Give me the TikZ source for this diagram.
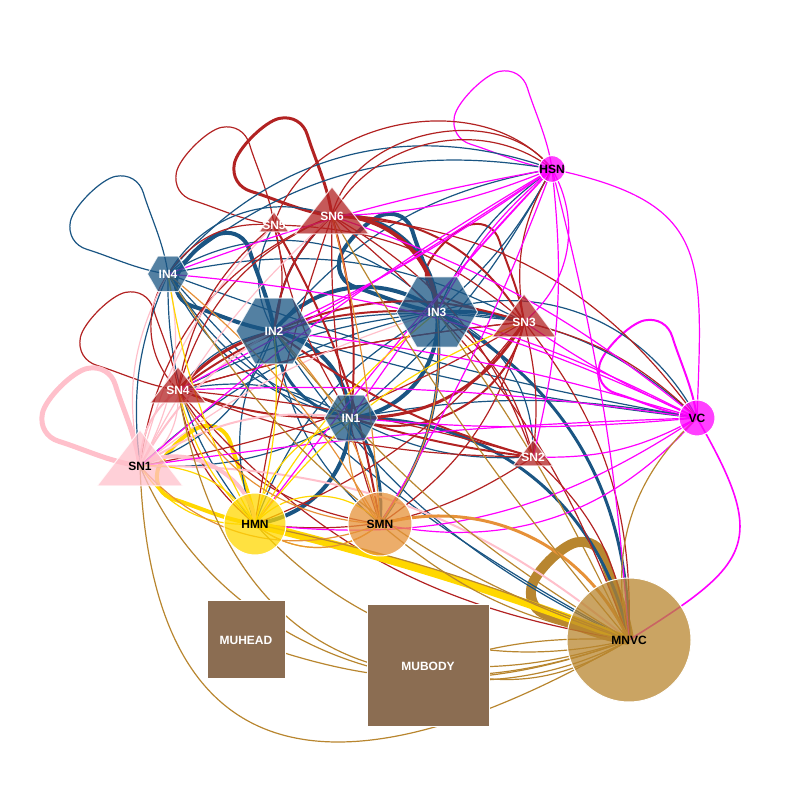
\documentclass[tikz,border=0pt]{standalone}
\usepackage{fontspec}
\setmainfont{Liberation Sans}
\usetikzlibrary{shapes.geometric}
\pgfdeclarelayer{bg}
\pgfdeclarelayer{mid}
\pgfsetlayers{bg,mid,main}
\definecolor{cIN}{HTML}{1A5583}
\definecolor{cSN}{HTML}{B22222}
\definecolor{cPK}{HTML}{FFC0CB}
\definecolor{cMG}{HTML}{FF00FF}
\definecolor{cHM}{HTML}{FFD700}
\definecolor{cSM}{HTML}{E69138}
\definecolor{cMN}{HTML}{B8862F}
\definecolor{cMU}{HTML}{8B6D52}
\newcommand\nodeloop[2]{\draw[#1, shift={(#2.center)}] (0,0) .. controls (-30,4) and (-57.1,17.3) .. (-81,24.6) .. controls (-93.6,28.4) and (-100.2,39.6) .. (-97.6,52.6) .. controls (-94.6,67.3) and (-67.3,94.6) .. (-52.6,97.6) .. controls (-39.6,100.2) and (-28.4,93.6) .. (-24.6,81) .. controls (-17.3,57.1) and (-4,30) .. (0,0);}
\begin{document}
\begin{tikzpicture}[x=1pt,y=1pt,
  lbl/.style={font=\fontsize{12}{14}\selectfont\bfseries, inner sep=0pt},
  hexnode/.style={regular polygon, regular polygon sides=6, inner sep=0pt, fill=cIN, fill opacity=0.75, text opacity=1, draw=white, draw opacity=0.8, line width=1pt, text=white, lbl},
  circnode/.style={circle, inner sep=0pt, fill opacity=0.75, text opacity=1, draw=white, line width=1pt, text=black, lbl},
  sqnode/.style={rectangle, inner sep=0pt, fill=cMU, draw=white, line width=1pt, text=white, lbl},
  trinode/.style={lbl, text=white},
  trif/.style={fill=cSN, fill opacity=0.75, draw=white, draw opacity=0.8, line width=1pt},
  e/.style={line width=1.2pt},
  eb/.style={e, draw=cIN}, er/.style={e, draw=cSN}, ep/.style={e, draw=cPK},
  em/.style={e, draw=cMG}, ey/.style={e, draw=cHM}, eo/.style={e, draw=cSM},
  et/.style={e, draw=cMN},
  w2/.style={line width=2pt}, w3/.style={line width=3pt}, w4/.style={line width=4pt},
  w5/.style={line width=5pt}, w8/.style={line width=8pt}, w10/.style={line width=10pt}
]
\useasboundingbox (0,0) rectangle (800,800);
% ---------- nodes ----------
\node[circnode, fill=cMG, minimum size=18pt] (HSN) at (552,631) {HSN};
\node[trinode] (SN6) at (332,584) {SN6};
\node[trinode] (SN5) at (274,575) {SN5};
\node[hexnode, minimum size=41pt] (IN4) at (168,526) {IN4};
\node[hexnode, minimum size=76pt] (IN2) at (274,469) {IN2};
\node[hexnode, minimum size=81pt] (IN3) at (437,488) {IN3};
\node[trinode] (SN3) at (524,478) {SN3};
\node[trinode] (SN4) at (178,410) {SN4};
\node[hexnode, minimum size=53pt] (IN1) at (351,382) {IN1};
\node[circnode, fill=cMG, minimum size=36pt] (VC) at (697,382) {VC};
\node[trinode] (SN2) at (533,343) {SN2};
\node[trinode, text=black] (SN1) at (140,334) {SN1};
\node[circnode, fill=cHM, minimum size=62pt] (HMN) at (255,276) {HMN};
\node[circnode, fill=cSM, minimum size=64pt] (SMN) at (380,276) {SMN};
\node[circnode, fill=cMN, minimum size=124pt] (MNVC) at (629,160) {MNVC};
\node[sqnode, minimum size=78pt] (MUHEAD) at (246,160) {MUHEAD};
\node[sqnode, minimum size=122pt] (MUBODY) at (428,134) {MUBODY};
% ---------- triangles ----------
\begin{pgfonlayer}{mid}
\fill[trif, shift={(SN6.center)}] (0,29) -- (37,-18) -- (-37,-18) -- cycle;
\fill[trif, shift={(SN5.center)}] (0,13) -- (15,-7) -- (-15,-7) -- cycle;
\fill[trif, shift={(SN3.center)}] (0,28) -- (32,-15) -- (-32,-15) -- cycle;
\fill[trif, shift={(SN4.center)}] (0,23) -- (28,-13) -- (-28,-13) -- cycle;
\fill[trif, fill=cPK, shift={(SN1.center)}] (0,36) -- (43,-20) -- (-43,-20) -- cycle;
\fill[trif, shift={(SN2.center)}] (0,17) -- (20,-9) -- (-20,-9) -- cycle;
\end{pgfonlayer}
% ---------- edges ----------
\begin{pgfonlayer}{bg}
% loops
\nodeloop{eb}{IN4}
\nodeloop{eb,w4}{IN2}
\nodeloop{eb,w4}{IN3}
\nodeloop{er,w3}{SN6}
\nodeloop{er}{SN5}
\nodeloop{er}{SN4}
\nodeloop{er,w2}{SN3}
\nodeloop{ep,w5}{SN1}
\nodeloop{em}{HSN}
\nodeloop{em,w2}{VC}
\nodeloop{ey,w4}{HMN}
\nodeloop{et,w10}{MNVC}
% blue IN4
\draw[eb] (IN4.center) to[bend left=25] (HSN.center);
\draw[eb] (IN4.center) to[bend left=35] (HSN.center);
\draw[eb] (IN4.center) to[bend left=40] (IN3.center);
\draw[eb] (IN4.center) to[bend left=20] (SN3.center);
\draw[eb] (IN4.center) to[bend right=5] (VC.center);
\draw[eb] (IN4.center) to[bend right=25] (IN1.center);
\draw[eb] (IN4.center) to[bend right=15] (SN1.center);
\draw[eb] (IN4.center) to[bend right=20] (HMN.center);
\draw[eb] (IN4.center) to[bend right=10] (MNVC.center);
\draw[eb] (IN4.center) to[bend left=40] (SN6.center);
% blue IN2
\draw[eb,w4] (IN2.center) to[bend left=45] (IN3.center);
\draw[eb,w4] (IN2.center) to[bend left=35] (IN1.center);
\draw[eb,w3] (IN2.center) to[bend right=40] (IN1.center);
\draw[eb,w2] (IN2.center) to[bend left=20] (SN6.center);
\draw[eb] (IN2.center) to[bend left=20] (HSN.center);
\draw[eb] (IN2.center) to[bend right=5] (VC.center);
\draw[eb] (IN2.center) to[bend left=10] (SN3.center);
\draw[eb] (IN2.center) to[bend right=15] (MNVC.center);
\draw[eb] (IN2.center) to[bend right=20] (SMN.center);
\draw[eb] (IN2.center) to[bend right=25] (HMN.center);
\draw[eb] (IN2.center) to[bend left=25] (SN1.center);
\draw[eb] (IN2.center) to[bend right=20] (SN4.center);
\draw[eb] (IN2.center) to[bend left=30] (SN5.center);
% blue IN3
\draw[eb] (IN3.center) to[bend left=15] (HSN.center);
\draw[eb] (IN3.center) to[bend right=10] (HSN.center);
\draw[eb] (IN3.center) to[bend left=40] (VC.center);
\draw[eb] (IN3.center) to[bend left=20] (VC.center);
\draw[eb] (IN3.center) to[bend left=35] (SN2.center);
\draw[eb,w3] (IN3.center) to[bend left=30] (MNVC.center);
\draw[eb,w3] (IN3.center) to[bend left=20] (SMN.center);
\draw[eb,w4] (IN3.center) to[bend left=45] (IN1.center);
\draw[eb] (IN3.center) to[bend right=10] (SN4.center);
\draw[eb] (IN3.center) to[bend right=15] (SN1.center);
\draw[eb] (IN3.center) to[bend right=20] (HMN.center);
\draw[eb,w3] (IN3.center) to[bend right=50] (SN6.center);
\draw[eb,w3] (IN3.center) to[bend left=10] (SN3.center);
% blue IN1
\draw[eb,w4] (IN1.center) to[bend left=40] (HMN.center);
\draw[eb,w3] (IN1.center) to[bend left=40] (MNVC.center);
\draw[eb] (IN1.center) to[bend left=15] (SN1.center);
\draw[eb] (IN1.center) to[bend right=20] (SN4.center);
\draw[eb] (IN1.center) to[bend left=10] (VC.center);
\draw[eb,w3] (IN1.center) to[bend left=20] (SMN.center);
\draw[eb] (IN1.center) to[bend right=15] (SN2.center);
\draw[eb] (IN1.center) to[bend right=10] (HSN.center);
\draw[eb] (IN1.center) to[bend left=20] (IN4.center);
% red SN6
\draw[er,w4] (SN6.center) to[bend left=45] (IN3.center);
\draw[er] (SN6.center) to[bend left=50] (HSN.center);
\draw[er] (SN6.center) to[bend left=65] (HSN.center);
\draw[er,w2] (SN6.center) to[bend left=30] (SN3.center);
\draw[er,w2] (SN6.center) to[bend right=20] (IN2.center);
\draw[er] (SN6.center) to[bend right=25] (SN4.center);
\draw[er,w2] (SN6.center) to[bend left=10] (IN1.center);
\draw[er] (SN6.center) to[bend right=10] (SMN.center);
\draw[er] (SN6.center) to[bend left=20] (SN2.center);
\draw[er] (SN6.center) to[bend left=25] (VC.center);
\draw[er] (SN6.center) to[bend left=15] (MNVC.center);
\draw[er] (SN6.center) to[bend right=30] (SN1.center);
\draw[er] (SN6.center) to[bend right=5] (HMN.center);
% red SN5
\draw[er] (SN5.center) to[bend left=62] (HSN.center);
\draw[er] (SN5.center) to[bend left=15] (IN2.center);
\draw[er] (SN5.center) to[bend right=10] (IN1.center);
\draw[er] (SN5.center) to[bend left=20] (SN3.center);
\draw[er] (SN5.center) to[bend right=20] (SN4.center);
\draw[er] (SN5.center) to[bend right=30] (IN4.center);
\draw[er,w2] (SN5.center) to[bend left=10] (SMN.center);
% red SN4
\draw[er,w3] (SN4.center) to[bend left=15] (IN2.center);
\draw[er,w2] (SN4.center) to[bend left=20] (IN3.center);
\draw[er,w2] (SN4.center) to[bend right=10] (IN1.center);
\draw[er] (SN4.center) to[bend left=5] (SN3.center);
\draw[er] (SN4.center) to[bend right=10] (SN2.center);
\draw[er] (SN4.center) to[bend right=20] (HMN.center);
\draw[er] (SN4.center) to[bend right=25] (SMN.center);
\draw[er] (SN4.center) to[bend right=20] (MNVC.center);
\draw[er] (SN4.center) to[bend left=40] (IN4.center);
% red SN3
\draw[er,w3] (SN3.center) to[bend left=30] (IN1.center);
\draw[er,w2] (SN3.center) to[bend left=50] (IN1.center);
\draw[er] (SN3.center) to[bend left=10] (SN2.center);
\draw[er] (SN3.center) to[bend left=20] (HSN.center);
\draw[er] (SN3.center) to[bend left=15] (VC.center);
\draw[er] (SN3.center) to[bend left=20] (MNVC.center);
\draw[er,w2] (SN3.center) to[bend right=20] (IN2.center);
\draw[er] (SN3.center) to[bend right=5] (SN4.center);
\draw[er] (SN3.center) to[bend left=15] (HMN.center);
\draw[er] (SN3.center) to[bend left=20] (SMN.center);
\draw[er] (SN3.center) to[bend left=10] (SN1.center);
% red SN2
\draw[er,w2] (SN2.center) to[bend left=10] (IN2.center);
\draw[er] (SN2.center) to[bend right=5] (SN4.center);
\draw[er,w2] (SN2.center) to[bend left=5] (IN1.center);
\draw[er] (SN2.center) to[bend right=20] (IN3.center);
\draw[er] (SN2.center) to[bend left=20] (MNVC.center);
\draw[er] (SN2.center) to[bend left=20] (HMN.center);
% pink SN1
\draw[ep,w4] (SN1.center) to[bend left=60] (HMN.center);
\draw[ep,w2] (SN1.center) to[bend left=15] (IN2.center);
\draw[ep] (SN1.center) to[bend left=20] (IN4.center);
\draw[ep] (SN1.center) to[bend right=20] (IN4.center);
\draw[ep,w2] (SN1.center) to[bend left=25] (SN4.center);
\draw[ep] (SN1.center) to[bend right=30] (SN4.center);
\draw[ep,w2] (SN1.center) to[bend left=20] (IN1.center);
\draw[ep,w2] (SN1.center) to[bend left=20] (MNVC.center);
\draw[ep] (SN1.center) to[bend left=10] (SN6.center);
\draw[ep] (SN1.center) to[bend left=10] (IN3.center);
\draw[ep] (SN1.center) to[bend left=15] (SN5.center);
% magenta HSN
\draw[em] (HSN.center) to[out=-12,in=88,looseness=1.45] (VC.center);
\draw[em] (HSN.center) to[bend right=5] (IN4.center);
\draw[em] (HSN.center) to[bend left=5] (IN2.center);
\draw[em] (HSN.center) to[bend left=3] (SN4.center);
\draw[em] (HSN.center) to[bend right=5] (SN1.center);
\draw[em] (HSN.center) to[bend right=5] (IN1.center);
\draw[em] (HSN.center) to[bend left=5] (SMN.center);
\draw[em] (HSN.center) to[bend left=10] (SN2.center);
\draw[em] (HSN.center) to[bend left=5] (MNVC.center);
\draw[em] (HSN.center) to[bend left=40] (SN3.center);
\draw[em] (HSN.center) to[bend right=10] (IN3.center);
\draw[em] (HSN.center) to[bend left=10] (SN6.center);
\draw[em] (HSN.center) to[bend right=3] (HMN.center);
% magenta VC
\draw[em,line width=1.6pt] (VC.center) to[out=-60,in=32,looseness=1.6] (MNVC.center);
\draw[em] (VC.center) to[bend right=3] (SN1.center);
\draw[em] (VC.center) to[bend right=5] (IN2.center);
\draw[em] (VC.center) to[bend right=10] (IN4.center);
\draw[em] (VC.center) to[bend right=5] (IN3.center);
\draw[em] (VC.center) to[bend left=5] (SN3.center);
\draw[em] (VC.center) to[bend left=15] (SN2.center);
\draw[em] (VC.center) to[bend right=5] (SN4.center);
\draw[em] (VC.center) to[bend left=20] (HMN.center);
\draw[em] (VC.center) to[bend left=5] (IN1.center);
\draw[em] (VC.center) to[bend left=30] (SMN.center);
\draw[em] (VC.center) to[bend right=10] (SN6.center);
% yellow HMN
\draw[ey,w8] (HMN.center) to[bend left=3] (MNVC.center);
\draw[ey] (HMN.center) to[bend left=30] (IN1.center);
\draw[ey] (HMN.center) to[bend left=15] (SN4.center);
\draw[ey] (HMN.center) to[bend right=10] (IN2.center);
\draw[ey] (HMN.center) to[bend left=10] (IN3.center);
\draw[ey] (HMN.center) to[bend left=15] (SN3.center);
\draw[ey] (HMN.center) to[bend left=50] (SMN.center);
\draw[ey] (HMN.center) to[bend right=40] (SMN.center);
\draw[ey] (HMN.center) to[bend left=30] (SN1.center);
\draw[ey] (HMN.center) to[bend right=30] (SN1.center);
\draw[ey] (HMN.center) to[bend left=10] (IN4.center);
% orange SMN
\draw[eo,w3] (SMN.center) to[bend left=40] (MNVC.center);
\draw[eo] (SMN.center) to[bend left=35] (SN1.center);
\draw[eo] (SMN.center) to[bend left=30] (SN4.center);
\draw[eo] (SMN.center) to[bend right=15] (IN2.center);
\draw[eo] (SMN.center) to[bend right=10] (IN4.center);
\draw[eo] (SMN.center) to[bend left=40] (HMN.center);
\draw[eo] (SMN.center) to[bend right=20] (IN3.center);
\draw[eo] (SMN.center) to[bend left=25] (IN1.center);
\draw[eo] (SMN.center) to[bend right=5] (SN6.center);
% tan MNVC
\draw[et] (MNVC.center) to[bend right=10] (MUBODY.center);
\draw[et] (MNVC.center) to[bend left=10] (MUBODY.center);
\draw[et] (MNVC.center) to[bend left=25] (MUBODY.center);
\draw[et] (MNVC.center) to[bend left=20] (MUHEAD.center);
\draw[et] (MNVC.center) to[out=-150,in=-88,looseness=1.6] (SN1.center);
\draw[et] (MNVC.center) to[bend left=48] (SN1.center);
\draw[et] (MNVC.center) to[out=-160,in=-80,looseness=1.3] (SN4.center);
\draw[et] (MNVC.center) to[bend left=30] (HMN.center);
\draw[et] (MNVC.center) to[bend right=5] (HMN.center);
\draw[et] (MNVC.center) to[bend left=15] (SMN.center);
\draw[et] (MNVC.center) to[bend left=30] (VC.center);
\draw[et] (MNVC.center) to[bend left=5] (SN6.center);
\draw[et] (MNVC.center) to[bend left=10] (IN2.center);
\draw[et] (MNVC.center) to[bend right=5] (IN3.center);
\draw[et] (MNVC.center) to[bend left=20] (IN4.center);
\end{pgfonlayer}
\end{tikzpicture}
\end{document}
